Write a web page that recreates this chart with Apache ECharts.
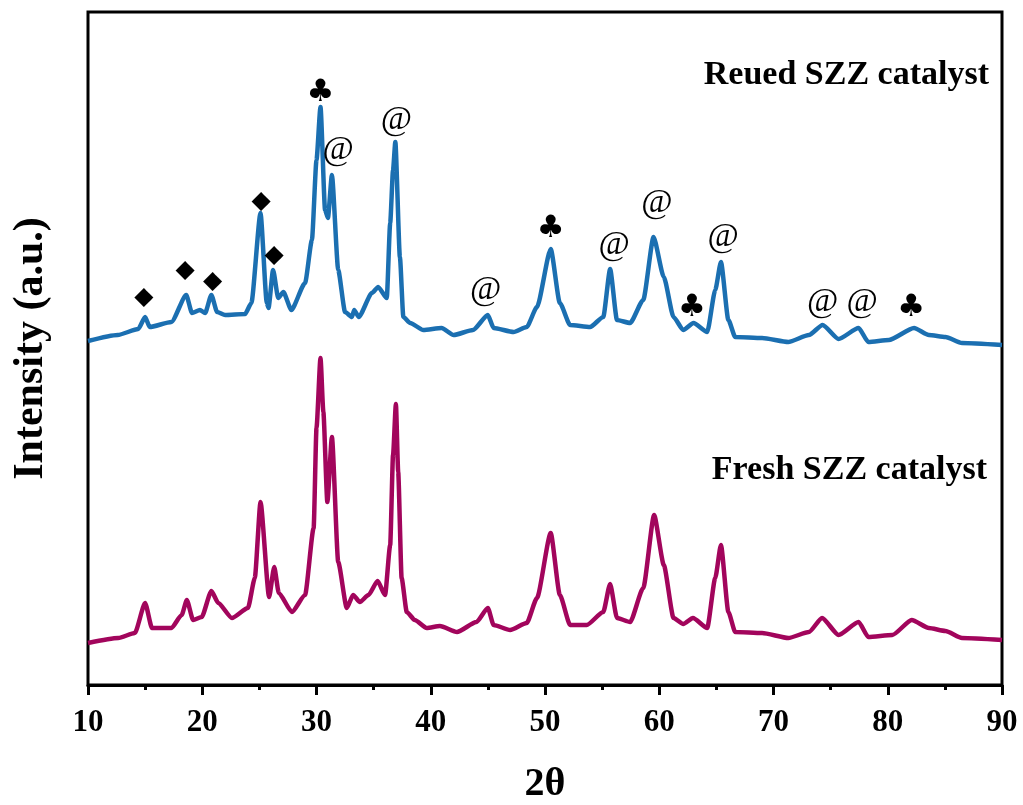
<!DOCTYPE html>
<html>
<head>
<meta charset="utf-8">
<script src="https://cdn.jsdelivr.net/npm/echarts@6/dist/echarts.min.js"></script>
<style>
html,body{margin:0;padding:0;background:#fff;}
#chart{width:1023px;height:805px;}
</style>
</head>
<body>
<div id="chart"></div>
<script>
// ---- Data (2θ in degrees, intensity in arbitrary units) ----
var reusedTheta = [10.0,12.6,14.4,15.0,15.4,17.3,18.6,19.1,19.8,20.25,20.8,21.3,22.0,23.75,24.3,25.1,25.65,25.8,26.2,26.65,27.1,27.8,29.0,29.6,30.0,30.35,30.75,31.0,31.35,31.9,32.5,33.1,33.3,33.7,34.85,35.4,36.15,36.45,36.7,36.9,37.3,37.6,38.2,39.35,40.95,42.0,43.7,45.0,45.5,47.25,48.4,49.3,50.5,51.3,52.2,53.95,55.1,55.7,56.3,57.45,58.6,59.5,60.4,61.25,62.1,63.0,64.2,64.9,65.4,66.05,66.65,69.0,71.3,73.1,74.3,75.7,77.45,78.3,80.1,82.3,83.6,85.05,86.5,90.0];
var reusedIntensity = [344,350,356,368,358,363,390,372,375,372,390,373,370,371,382,472,382,377,415,387,393,375,402,445,525,578,475,467,510,415,373,368,375,368,392,398,387,462,515,543,428,368,362,355,357,350,355,370,357,353,358,378,436,382,360,358,368,416,365,362,385,448,408,368,355,362,353,395,423,365,348,347,343,350,360,346,357,343,345,357,350,348,342,340];

var freshTheta = [10.0,12.65,14.1,15.0,15.6,17.3,18.2,18.65,19.2,19.95,20.8,21.4,22.6,24.0,24.6,25.1,25.85,26.3,26.7,27.85,29.0,29.75,30.0,30.35,30.6,30.95,31.35,31.9,32.65,33.2,33.8,34.55,35.35,36.0,36.45,36.7,36.95,37.15,37.45,37.9,38.6,39.65,40.8,42.3,44.0,45.0,45.5,46.95,48.4,49.3,50.5,51.3,52.2,53.65,55.1,55.7,56.3,57.45,58.6,59.55,60.4,61.25,62.1,62.95,64.2,64.9,65.4,66.05,66.65,69.0,71.3,73.1,74.25,75.7,77.45,78.3,80.4,82.1,83.6,85.05,86.5,90.0];
var freshIntensity = [42,47,52,82,57,57,70,85,65,68,94,82,67,77,107,183,88,118,92,73,90,157,257,327,273,183,248,123,77,90,83,90,104,90,140,230,281,213,107,73,65,57,59,53,63,77,60,55,62,87,152,90,60,60,73,101,67,63,97,170,120,67,61,67,57,107,140,73,53,52,47,53,67,50,63,48,50,65,57,54,47,45];

// Phase markers on the reused pattern
var markerTheta = [14.9,18.5,20.9,25.15,26.3,30.35,31.9,37.0,44.8,50.5,56.05,59.8,62.85,65.6,74.3,77.75,82.05];
var markerIntensity = [388,415,404,484,430,592,535,565,395,456,440,482,377,448,383,383,377];
var markerSymbol = ['◆','◆','◆','◆','◆','♣','@','@','@','♣','@','@','♣','@','@','@','♣'];

var seriesNames = ['Reued SZZ catalyst','Fresh SZZ catalyst'];
var xTicks = {min:10, max:90, interval:10};
var xTitle = '2θ';
var yTitle = 'Intensity (a.u.)';

function pairs(xs, ys){ var out=[]; for(var i=0;i<xs.length;i++){ out.push([xs[i], ys[i]]); } return out; }

var serif = "'Liberation Serif','Times New Roman',serif";
var markerData = [];
for (var i=0;i<markerTheta.length;i++){
  var s = markerSymbol[i];
  var lab = {show:true, position:'inside', formatter:s, color:'#000', opacity:1, textBorderWidth:0};
  if (s==='@'){ lab.fontSize=34; lab.fontFamily=serif; }
  else if (s==='◆'){ lab.fontSize=25; lab.fontFamily="'DejaVu Sans',sans-serif"; }
  else { lab.fontSize=31; lab.fontFamily="'DejaVu Sans',sans-serif"; }
  markerData.push({value:[markerTheta[i], markerIntensity[i]], label:lab});
}

var chart = echarts.init(document.getElementById('chart'), null, {renderer:'canvas'});
chart.setOption({
  backgroundColor:'#ffffff',
  animation:false,
  grid:{left:88, right:21, top:12, bottom:120, show:true, borderColor:'#000', borderWidth:3, backgroundColor:'transparent',
        containLabel:false, outerBoundsMode:'none'},
  xAxis:{
    type:'value', min:xTicks.min, max:xTicks.max, interval:xTicks.interval,
    name:xTitle, nameLocation:'middle', nameGap:80,
    nameTextStyle:{fontFamily:serif, fontWeight:'bold', fontSize:40, color:'#000'},
    axisLine:{show:true, lineStyle:{color:'#000', width:3}},
    axisTick:{show:true, inside:false, length:10, lineStyle:{color:'#000', width:3}},
    minorTick:{show:true, splitNumber:2, length:5, lineStyle:{color:'#000', width:3}},
    splitLine:{show:false},
    axisLabel:{fontFamily:serif, fontWeight:'bold', fontSize:31, color:'#000', margin:22}
  },
  yAxis:{
    type:'value', min:0, max:673,
    name:yTitle, nameLocation:'middle', nameRotate:90, nameGap:36,
    nameTextStyle:{fontFamily:serif, fontWeight:'bold', fontSize:42, color:'#000'},
    axisLine:{show:false}, axisTick:{show:false}, axisLabel:{show:false}, splitLine:{show:false}
  },
  series:[
    {name:seriesNames[0], type:'line', data:pairs(reusedTheta, reusedIntensity), symbol:'none', smooth:0.2, smoothMonotone:'x',
     lineStyle:{color:'#1b6fb1', width:4.5}, z:3},
    {name:seriesNames[1], type:'line', data:pairs(freshTheta, freshIntensity), symbol:'none', smooth:0.2, smoothMonotone:'x',
     lineStyle:{color:'#a2055c', width:4.5}, z:3},
    {name:'markers', type:'scatter', data:markerData, symbolSize:1, itemStyle:{color:'#fff', opacity:0}, z:5, silent:true}
  ],
  graphic:[
    {type:'text', right:34, top:58, style:{text:seriesNames[0], font:"bold 34px 'Liberation Serif','Times New Roman',serif", fill:'#000'}},
    {type:'text', right:36, top:453, style:{text:seriesNames[1], font:"bold 34px 'Liberation Serif','Times New Roman',serif", fill:'#000'}}
  ]
});
</script>
</body>
</html>
